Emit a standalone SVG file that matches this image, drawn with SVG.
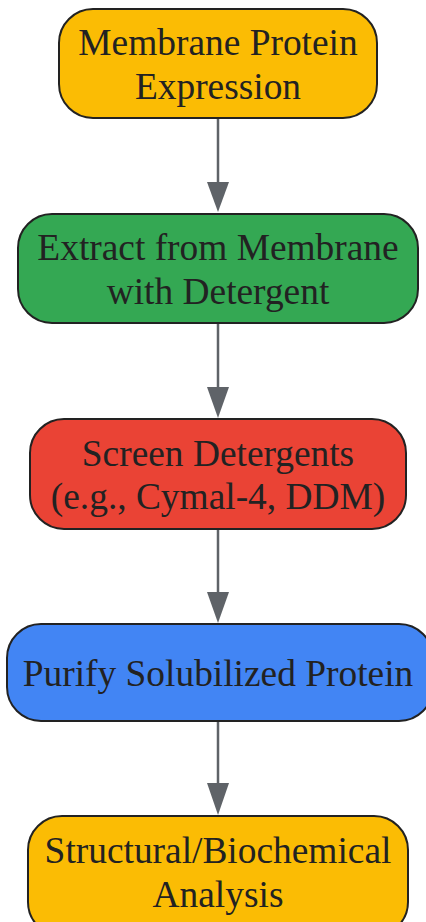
<svg xmlns="http://www.w3.org/2000/svg" width="426" height="922" viewBox="0 0 426 922">
<style>
.n{stroke:#222222;stroke-width:2;}
.t{font-family:"Liberation Serif","Times New Roman",serif;font-size:37.4px;fill:#222222;text-anchor:middle;}
.e{stroke:#5f6368;stroke-width:2.5;fill:none;}
</style>
<rect width="426" height="922" fill="#ffffff"/>
<g id="edges">
<line class="e" x1="218" y1="118" x2="218" y2="182"/>
<path d="M207,182 L229,182 L218,212 Z" fill="#5f6368"/>
<line class="e" x1="218" y1="323" x2="218" y2="388"/>
<path d="M207,387 L229,387 L218,418 Z" fill="#5f6368"/>
<line class="e" x1="218" y1="529" x2="218" y2="593"/>
<path d="M207,592 L229,592 L218,623 Z" fill="#5f6368"/>
<line class="e" x1="218" y1="721" x2="218" y2="784"/>
<path d="M207,783 L229,783 L218,815 Z" fill="#5f6368"/>
</g>
<g id="node1">
<rect class="n" x="59" y="9" width="318" height="109" rx="34" fill="#fbbc04"/>
<text class="t" x="218" y="55">Membrane Protein</text>
<text class="t" x="218" y="99">Expression</text>
</g>
<g id="node2">
<rect class="n" x="18" y="214" width="400" height="109" rx="34" fill="#34a853"/>
<text class="t" x="218" y="260">Extract from Membrane</text>
<text class="t" x="218" y="304">with Detergent</text>
</g>
<g id="node3">
<rect class="n" x="30" y="419" width="376" height="110" rx="34" fill="#ea4335"/>
<text class="t" x="218" y="466">Screen Detergents</text>
<text class="t" x="218" y="509">(e.g., Cymal-4, DDM)</text>
</g>
<g id="node4">
<rect class="n" x="7" y="624" width="426" height="97" rx="34" fill="#4285f4"/>
<text class="t" x="218" y="686">Purify Solubilized Protein</text>
</g>
<g id="node5">
<rect class="n" x="28" y="816" width="380" height="120" rx="34" fill="#fbbc04"/>
<text class="t" x="218" y="863">Structural/Biochemical</text>
<text class="t" x="218" y="907">Analysis</text>
</g>
</svg>
